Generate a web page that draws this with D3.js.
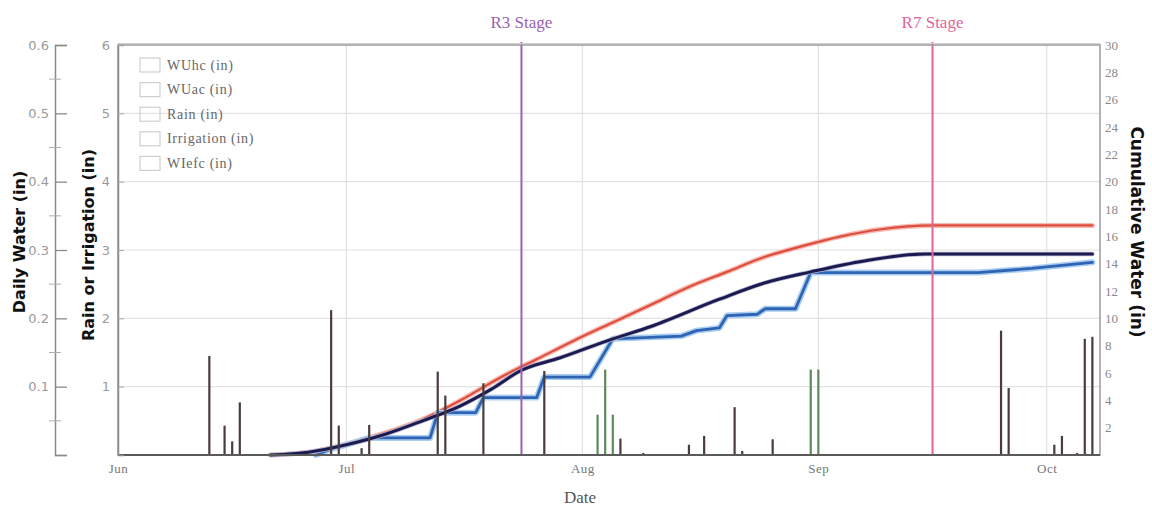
<!DOCTYPE html>
<html><head><meta charset="utf-8">
<script src="https://cdn.jsdelivr.net/npm/d3@7"></script>
<style>body{margin:0;background:#fff}</style>
</head><body><svg id="c" width="1152" height="510"></svg>
<script>
// ---- data ----
const rainDates = ["2013-06-13","2013-06-15","2013-06-16","2013-06-17","2013-06-29","2013-06-30","2013-07-03","2013-07-04","2013-07-13","2013-07-14","2013-07-19","2013-07-27","2013-08-06","2013-08-09","2013-08-15","2013-08-17","2013-08-21","2013-08-22","2013-08-26","2013-09-25","2013-09-26","2013-10-02","2013-10-03","2013-10-05","2013-10-06","2013-10-07"];
const rainValues = [1.45,0.43,0.2,0.77,2.12,0.43,0.1,0.44,1.22,0.87,1.05,1.23,0.24,0.03,0.15,0.28,0.7,0.06,0.23,1.82,0.98,0.15,0.28,0.03,1.7,1.73];
const irrDates = ["2013-08-03","2013-08-04","2013-08-05","2013-08-31","2013-09-01"];
const irrValues = [0.59,1.25,0.59,1.25,1.25];

const wuhcDates = ["2013-06-21","2013-06-26","2013-07-01","2013-07-06","2013-07-11","2013-07-16","2013-07-21","2013-07-26","2013-07-31","2013-08-05","2013-08-10","2013-08-15","2013-08-20","2013-08-25","2013-08-30","2013-09-04","2013-09-09","2013-09-16","2013-10-07"];
const wuhcValues = [0,0.2,0.8,1.6,2.6,4.0,5.6,7.0,8.4,9.7,11.0,12.3,13.4,14.5,15.3,16.0,16.5,16.8,16.8];
const wuacDates = ["2013-06-21","2013-06-26","2013-07-01","2013-07-06","2013-07-11","2013-07-16","2013-07-20","2013-07-24","2013-07-29","2013-08-05","2013-08-10","2013-08-19","2013-08-25","2013-08-31","2013-09-07","2013-09-15","2013-10-07"];
const wuacValues = [0,0.2,0.75,1.5,2.5,3.6,4.8,6.2,7.1,8.5,9.4,11.4,12.6,13.4,14.2,14.7,14.7];
const wiefcDates = ["2013-06-27","2013-06-29","2013-07-01","2013-07-04","2013-07-12","2013-07-13","2013-07-18","2013-07-19","2013-07-26","2013-07-27","2013-08-02","2013-08-05","2013-08-14","2013-08-16","2013-08-19","2013-08-20","2013-08-24","2013-08-25","2013-08-29","2013-08-31","2013-09-22","2013-09-29","2013-10-07"];
const wiefcValues = [0,0.45,0.75,1.25,1.25,3.1,3.1,4.2,4.2,5.7,5.7,8.5,8.7,9.1,9.3,10.2,10.3,10.7,10.7,13.35,13.35,13.65,14.1];

const stageLabels = ["R3 Stage","R7 Stage"];
const stageDates = ["2013-07-24","2013-09-16"];
const monthTickDates = ["2013-06-01","2013-07-01","2013-08-01","2013-09-01","2013-10-01"];
const monthTickLabels = ["Jun","Jul","Aug","Sep","Oct"];
const dailyTicks = [0,0.1,0.2,0.3,0.4,0.5,0.6];
const dailyMinorTicks = [0.05,0.15,0.25,0.35,0.45,0.55];
const rainTicks = [1,2,3,4,5,6];
const cumTicks = [2,4,6,8,10,12,14,16,18,20,22,24,26,28,30];
const legendLabels = ["WUhc (in)","WUac (in)","Rain (in)","Irrigation (in)","WIefc (in)"];

// ---- layout ----
const P = d3.utcParse("%Y-%m-%d");
const L = 118, R = 1100, T = 45, B = 455;
const svg = d3.select("#c");
const x = d3.scaleUtc().domain([P("2013-06-01"), P("2013-10-08")]).range([L, R]);
const yRain = d3.scaleLinear().domain([0, 6]).range([B, T]);
const yDaily = d3.scaleLinear().domain([0, 0.6]).range([B, T]);
const yCum = d3.scaleLinear().domain([0, 30]).range([B, T]);
const serif = "'Liberation Serif', 'Times New Roman', serif";
const sans = "'DejaVu Sans', Verdana, sans-serif";

// grid
svg.append("g").selectAll("line").data([1,2,3,4,5]).join("line")
  .attr("x1", L).attr("x2", R).attr("y1", d => yRain(d)).attr("y2", d => yRain(d))
  .attr("stroke", "#e2e2e2").attr("stroke-width", 1.2);
svg.append("g").selectAll("line").data(monthTickDates.slice(1)).join("line")
  .attr("x1", d => x(P(d))).attr("x2", d => x(P(d))).attr("y1", T).attr("y2", B)
  .attr("stroke", "#e2e2e2").attr("stroke-width", 1.2);

// legend
const lg = svg.append("g");
legendLabels.forEach((t, i) => {
  const yy = 65 + i * 24.6;
  lg.append("rect").attr("x", 140).attr("y", yy - 7).attr("width", 20).attr("height", 14)
    .attr("fill", "none").attr("stroke", "#cfcfcf").attr("stroke-width", 1.2);
  lg.append("text").attr("x", 167).attr("y", yy + 4.5).text(t)
    .attr("font-family", serif).attr("font-size", 14).attr("letter-spacing", 0.7).attr("fill", "#666");
});

// cumulative lines
function pts(ds, vs) { return ds.map((d, i) => [P(d), vs[i]]); }
const smooth = d3.line().x(d => x(d[0])).y(d => yCum(d[1])).curve(d3.curveMonotoneX);
const straight = d3.line().x(d => x(d[0])).y(d => yCum(d[1]));
const gL = svg.append("g").attr("fill", "none").attr("stroke-linejoin", "round").attr("stroke-linecap", "round");
gL.append("path").attr("d", smooth(pts(wuhcDates, wuhcValues))).attr("stroke", "#f6b9b0").attr("stroke-width", 5);
gL.append("path").attr("d", smooth(pts(wuhcDates, wuhcValues))).attr("stroke", "#de4e3e").attr("stroke-width", 2.2);
gL.append("path").attr("d", straight(pts(wiefcDates, wiefcValues))).attr("stroke", "#a9cdf0").attr("stroke-width", 6);
gL.append("path").attr("d", straight(pts(wiefcDates, wiefcValues))).attr("stroke", "#2e64b3").attr("stroke-width", 2.8);
gL.append("path").attr("d", smooth(pts(wuacDates, wuacValues))).attr("stroke", "#b8b8d0").attr("stroke-width", 4.5);
gL.append("path").attr("d", smooth(pts(wuacDates, wuacValues))).attr("stroke", "#1b1b52").attr("stroke-width", 3);

// bars
svg.append("g").selectAll("rect").data(rainDates.map((d, i) => [P(d), rainValues[i]])).join("rect")
  .attr("x", d => x(d[0]) - 1.1).attr("width", 2.2)
  .attr("y", d => yRain(d[1])).attr("height", d => B - yRain(d[1]))
  .attr("fill", "#4a3c3c");
svg.append("g").selectAll("rect").data(irrDates.map((d, i) => [P(d), irrValues[i]])).join("rect")
  .attr("x", d => x(d[0]) - 1.1).attr("width", 2.2)
  .attr("y", d => yRain(d[1])).attr("height", d => B - yRain(d[1]))
  .attr("fill", "#5d8a5a");

// stage lines
const stageColors = ["#9a62b0", "#e2659a"];
stageDates.forEach((d, i) => {
  svg.append("line").attr("x1", x(P(d))).attr("x2", x(P(d))).attr("y1", T - 3).attr("y2", B)
    .attr("stroke", stageColors[i]).attr("stroke-width", 2);
  svg.append("text").attr("x", x(P(d))).attr("y", 28).attr("text-anchor", "middle")
    .attr("font-family", serif).attr("font-size", 17).attr("fill", stageColors[i]).text(stageLabels[i]);
});

// frame
svg.append("rect").attr("x", L).attr("y", T).attr("width", R - L).attr("height", B - T)
  .attr("fill", "none").attr("stroke", "#9a9a9a").attr("stroke-width", 1.5);
svg.append("line").attr("x1", L).attr("x2", R).attr("y1", T - 1.5).attr("y2", T - 1.5).attr("stroke", "#d0d0d0");
svg.append("line").attr("x1", L).attr("x2", R).attr("y1", B).attr("y2", B).attr("stroke", "#5a5a5a").attr("stroke-width", 2);

// left outer axis (daily water)
const aD = svg.append("g").attr("transform", `translate(55,0)`)
  .call(d3.axisLeft(yDaily).tickValues(dailyTicks).tickSize(-12).tickPadding(6).tickFormat(d => d === 0 ? "" : d3.format(".1f")(d)));
aD.select(".domain").attr("stroke", "#8a8a8a").attr("stroke-width", 1.5);
aD.selectAll(".tick line").attr("stroke", "#8a8a8a").attr("stroke-width", 1.3);
aD.selectAll("text").attr("font-family", sans).attr("font-size", 13).attr("fill", "#9a9a9a");
svg.append("g").selectAll("line").data(dailyMinorTicks).join("line")
  .attr("x1", 49).attr("x2", 61).attr("y1", d => yDaily(d)).attr("y2", d => yDaily(d))
  .attr("stroke", "#b0b0b0").attr("stroke-width", 1);

// rain axis
const aR = svg.append("g").attr("transform", `translate(${L},0)`)
  .call(d3.axisLeft(yRain).tickValues(rainTicks).tickSize(-6).tickPadding(8).tickFormat(d3.format("d")));
aR.select(".domain").attr("stroke", "#8a8a8a").attr("stroke-width", 1.5);
aR.selectAll(".tick line").attr("stroke", "#aaa");
aR.selectAll("text").attr("font-family", sans).attr("font-size", 13).attr("fill", "#9a9a9a");

// right cumulative axis
const aC = svg.append("g").attr("transform", `translate(${R},0)`)
  .call(d3.axisRight(yCum).tickValues(cumTicks).tickSize(0).tickPadding(5));
aC.select(".domain").remove();
aC.selectAll("text").attr("font-family", serif).attr("font-size", 13).attr("fill", "#8a8a8a");

// bottom month axis
const aX = svg.append("g").attr("transform", `translate(0,${B})`)
  .call(d3.axisBottom(x).tickValues(monthTickDates.map(P)).tickSize(0).tickPadding(9)
    .tickFormat((d, i) => monthTickLabels[i]));
aX.select(".domain").remove();
aX.selectAll("text").attr("font-family", serif).attr("font-size", 13).attr("letter-spacing", 0.5).attr("fill", "#777");

// titles
svg.append("text").attr("x", 580).attr("y", 503).attr("text-anchor", "middle")
  .attr("font-family", serif).attr("font-size", 17).attr("fill", "#555").text("Date");
svg.append("text").attr("transform", "translate(25,242) rotate(-90)").attr("text-anchor", "middle")
  .attr("font-family", sans).attr("font-weight", "bold").attr("font-size", 16).attr("fill", "#111").text("Daily Water (in)");
svg.append("text").attr("transform", "translate(94,245) rotate(-90)").attr("text-anchor", "middle")
  .attr("font-family", sans).attr("font-weight", "bold").attr("font-size", 16).attr("fill", "#111").text("Rain or Irrigation (in)");
svg.append("text").attr("transform", "translate(1131,232) rotate(90)").attr("text-anchor", "middle")
  .attr("font-family", sans).attr("font-weight", "bold").attr("font-size", 17).attr("fill", "#111").text("Cumulative Water (in)");
</script></body></html>
